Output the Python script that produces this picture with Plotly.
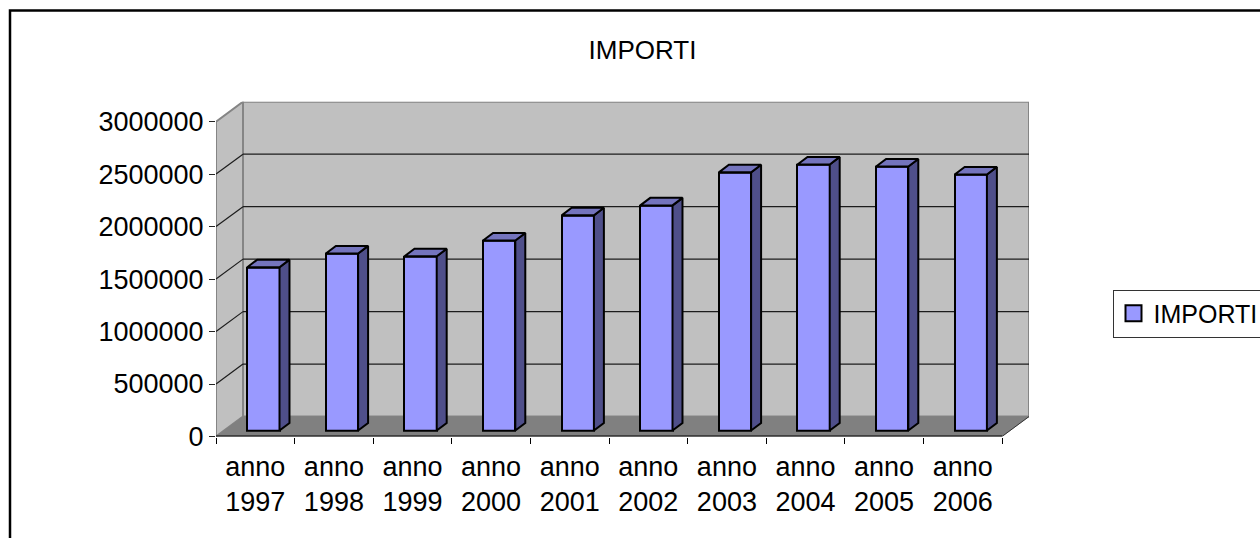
import plotly.graph_objects as go

# Yearly amounts
years = ["anno<br>1997", "anno<br>1998", "anno<br>1999", "anno<br>2000", "anno<br>2001",
         "anno<br>2002", "anno<br>2003", "anno<br>2004", "anno<br>2005", "anno<br>2006"]
importi = [1556000, 1687000, 1660000, 1810000, 2050000,
           2145000, 2460000, 2535000, 2515000, 2440000]
y_ticks = [0, 500000, 1000000, 1500000, 2000000, 2500000, 3000000]
y_labels = ["0", "500000", "1000000", "1500000", "2000000", "2500000", "3000000"]

W, H = 1260, 538

# Oblique projection: depth is expressed in axis units
WALL_DX, WALL_DY = 0.3435, 190000   # floor depth
BAR_X0, BAR_Y0 = 0.103, 57000       # where the front of a bar stands on the floor
BAR_DX, BAR_DY = 0.127, 72000       # depth of a bar
BAR_W = 0.41

XMIN, XMAX = -0.5, 9.5
YMAX = y_ticks[-1]

WALL = "#C0C0C0"
FLOOR = "#808080"
EDGE = "#858585"
GRID = "#1c1c1c"
FACE = "#9999FF"
SIDE = "#4F4F8A"
TOP = "#7474BD"
FONT = "Liberation Sans"


def poly(points, fill, edge, width):
    path = "M" + "L".join(f"{x},{y}" for x, y in points) + "Z"
    return dict(type="path", path=path, xref="x", yref="y", layer="below",
                fillcolor=fill, line=dict(color=edge, width=width))


def seg(x0, y0, x1, y1, color, width):
    return dict(type="line", x0=x0, y0=y0, x1=x1, y1=y1, xref="x", yref="y",
                layer="below", line=dict(color=color, width=width))


shapes = [
    # outer chart frame, running off the page at right and bottom
    dict(type="rect", xref="paper", yref="paper", x0=10 / W, x1=1.02,
         y0=-0.02, y1=1 - 10.5 / H, line=dict(color="black", width=2.5), layer="below"),
    # back wall, side wall, floor
    poly([(XMIN + WALL_DX, WALL_DY), (XMAX + WALL_DX, WALL_DY),
          (XMAX + WALL_DX, YMAX + WALL_DY), (XMIN + WALL_DX, YMAX + WALL_DY)], WALL, EDGE, 2),
    poly([(XMIN, 0), (XMIN + WALL_DX, WALL_DY), (XMIN + WALL_DX, YMAX + WALL_DY), (XMIN, YMAX)],
         WALL, EDGE, 2),
    poly([(XMIN, 0), (XMAX, 0), (XMAX + WALL_DX, WALL_DY), (XMIN + WALL_DX, WALL_DY)],
         FLOOR, FLOOR, 0.5),
    seg(XMAX, 0, XMAX + WALL_DX, WALL_DY, "#333333", 1),
]
for v in y_ticks[1:-1]:
    shapes.append(seg(XMIN, v, XMIN + WALL_DX, v + WALL_DY, GRID, 1.2))
    shapes.append(seg(XMIN + WALL_DX, v + WALL_DY, XMAX + WALL_DX, v + WALL_DY, GRID, 1.2))
shapes.append(seg(XMIN, 0, XMAX, 0, "black", 2))

fig = go.Figure()

# Front faces of the columns
positions = list(range(len(importi)))
fig.add_trace(go.Bar(
    x=[p + BAR_X0 for p in positions], y=importi, base=BAR_Y0, width=BAR_W,
    marker=dict(color=FACE, line=dict(color="black", width=2)),
    showlegend=False, hoverinfo="skip",
))

# Right side and top faces of the columns
for p, v in zip(positions, importi):
    xl = p + BAR_X0 - BAR_W / 2
    xr = p + BAR_X0 + BAR_W / 2
    yb = BAR_Y0
    yt = BAR_Y0 + v
    fig.add_trace(go.Scatter(
        x=[xr, xr + BAR_DX, xr + BAR_DX, xr, xr], y=[yb, yb + BAR_DY, yt + BAR_DY, yt, yb],
        mode="lines", fill="toself", fillcolor=SIDE,
        line=dict(color="black", width=2), showlegend=False, hoverinfo="skip",
    ))
    fig.add_trace(go.Scatter(
        x=[xl, xr, xr + BAR_DX, xl + BAR_DX, xl], y=[yt, yt, yt + BAR_DY, yt + BAR_DY, yt],
        mode="lines", fill="toself", fillcolor=TOP,
        line=dict(color="black", width=2), showlegend=False, hoverinfo="skip",
    ))

# Legend entry
fig.add_trace(go.Scatter(
    x=[None], y=[None], mode="markers", name="IMPORTI",
    marker=dict(symbol="square", size=16, color=FACE, line=dict(color="black", width=2)),
))

fig.update_layout(
    width=W, height=H,
    margin=dict(l=0, r=0, t=0, b=0, autoexpand=False),
    paper_bgcolor="white", plot_bgcolor="rgba(0,0,0,0)",
    font=dict(family=FONT, color="black", size=27),
    title=dict(text="IMPORTI", x=642.5 / W, xanchor="center", y=1 - 50 / H, yanchor="middle",
               font=dict(family=FONT, size=26, color="black")),
    bargap=0,
    shapes=shapes,
    showlegend=True,
    legend=dict(x=1112.5 / W, xanchor="left", y=1 - 289.5 / H, yanchor="top",
                bgcolor="white", bordercolor="#333333", borderwidth=1,
                font=dict(family=FONT, size=25, color="black")),
    xaxis=dict(
        domain=[216 / W, 1029 / W], range=[XMIN, XMAX + WALL_DX],
        tickmode="array", tickvals=positions, ticktext=years,
        ticks="", showgrid=False, zeroline=False, showline=False,
        ticklabelstandoff=11,
        tickfont=dict(family=FONT, size=27, color="black"),
        minor=dict(tickmode="array", tickvals=[XMIN + i for i in range(len(years) + 1)],
                   ticks="outside", ticklen=6, tickcolor="black", tickwidth=1, showgrid=False),
    ),
    yaxis=dict(
        domain=[1 - 436.5 / H, 1 - 101.7 / H], range=[0, YMAX + WALL_DY],
        tickmode="array", tickvals=y_ticks, ticktext=y_labels,
        ticks="outside", ticklen=6, tickcolor="#222222", tickwidth=1,
        showgrid=False, zeroline=False, showline=False,
        tickfont=dict(family=FONT, size=27, color="black"),
    ),
)

fig.write_html("out.html", config=dict(displayModeBar=False))
